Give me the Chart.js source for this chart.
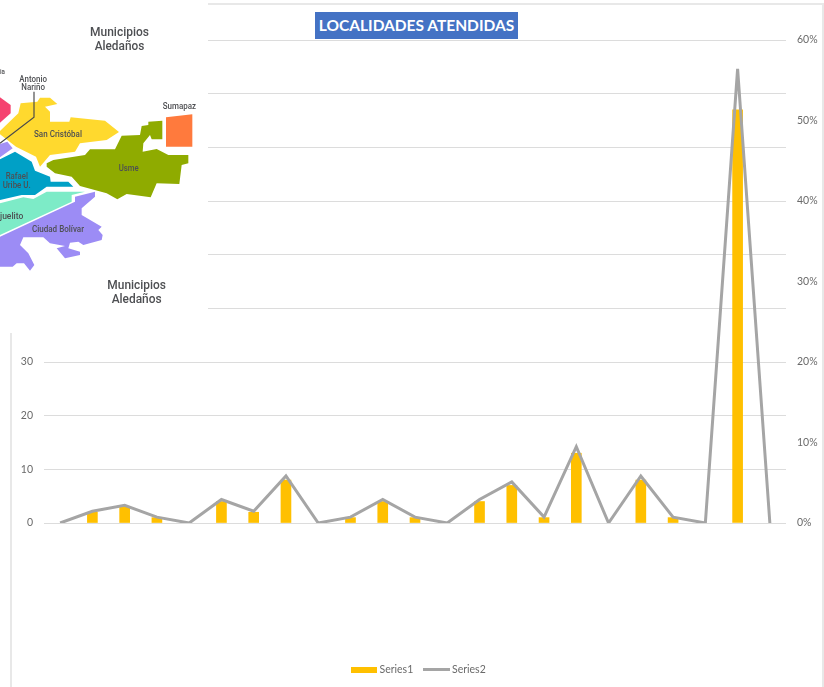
<!DOCTYPE html>
<html>
<head>
<meta charset="utf-8">
<title>Localidades atendidas</title>
<script src="https://cdn.jsdelivr.net/npm/chart.js@4"></script>
<style>
  html, body { margin: 0; padding: 0; background: #fff; }
  #wrap { position: relative; width: 824px; height: 687px; overflow: hidden; }
  #chart { position: absolute; left: 0; top: 0; }
  .frame { position: absolute; background: #e8e8e8; }
  #cover { position: absolute; left: 0; top: 0; width: 208px; height: 333px; background: #fff; }
  #map { position: absolute; left: 0; top: 0; width: 210px; height: 320px; }
  #map text { font-family: "Roboto", "Liberation Sans", sans-serif; font-weight: 500; fill: #4e4f52; text-anchor: start; }
  #titulo {
    position: absolute; left: 315px; top: 12px; width: 203px; height: 27px;
    background: #4472c4; color: #fff; text-align: center;
    font: bold 15.5px/27px Lato, sans-serif;
  }
</style>
</head>
<body>
<div id="wrap">
  <div class="frame" style="left:208px;top:3px;width:616px;height:2px"></div>
  <div class="frame" style="left:822px;top:3px;width:2px;height:684px"></div>
  <div class="frame" style="left:10px;top:333px;width:2px;height:354px"></div>
  <canvas id="chart" width="824" height="687"></canvas>
  <div id="cover"></div>
  <!-- mapa de fondo, coordenadas del recorte a 3x -->
  <svg id="map" viewBox="0 0 630 960">
    <defs><filter id="soft"><feGaussianBlur stdDeviation="0.9"/></filter></defs>
    <g filter="url(#soft)">
      <polygon fill="#f5426f" points="0,292 32,315 32,340 0,368"/>
      <polygon fill="#ffd92f" points="0,393 55,340 62,310 112,305 120,293 150,293 172,312 135,320 150,335 150,365 208,365 212,352 315,362 357,396 320,420 240,430 225,455 150,465 120,500 108,470 48,440 0,403"/>
      <polygon fill="#a390f5" points="0,432 22,425 38,445 0,472"/>
      <polygon fill="#00a0c6" points="0,478 45,455 95,485 105,512 150,530 152,545 205,545 220,560 140,560 105,585 65,585 0,600"/>
      <polygon fill="#7debc7" points="0,610 70,592 100,597 140,575 255,575 215,585 215,605 0,705"/>
      <polygon fill="#9c8cf5" points="0,710 225,605 225,590 285,575 285,590 245,625 245,645 305,680 295,690 308,705 305,720 250,735 235,725 210,728 205,745 240,755 240,765 195,775 170,745 195,738 150,730 130,712 70,712 60,735 85,760 103,795 90,812 72,790 50,790 38,800 0,800"/>
      <polygon fill="#8fab00" points="140,490 160,480 255,465 270,448 345,448 365,407 420,405 425,378 445,375 445,365 487,362 487,418 455,418 450,405 430,430 428,455 470,447 505,465 565,465 565,490 545,495 538,552 470,550 452,592 380,582 352,598 320,580 240,558 215,530 165,520 140,500"/>
      <polygon fill="#ff7a3c" points="498,352 577,343 577,440 498,440"/>
      <polyline fill="none" stroke="#4a4a4a" stroke-width="3.5" points="102,275 102,352 0,430"/>
      <text x="270" y="107" font-size="39" textLength="177" lengthAdjust="spacingAndGlyphs">Municipios</text>
      <text x="284" y="150" font-size="39" textLength="149" lengthAdjust="spacingAndGlyphs">Aledaños</text>
      <text x="322" y="866" font-size="39" textLength="176" lengthAdjust="spacingAndGlyphs">Municipios</text>
      <text x="335" y="908" font-size="39" textLength="150" lengthAdjust="spacingAndGlyphs">Aledaños</text>
      <text x="0" y="223" font-size="23" textLength="15" lengthAdjust="spacingAndGlyphs">ia</text>
      <text x="58" y="245" font-size="25" textLength="83" lengthAdjust="spacingAndGlyphs">Antonio</text>
      <text x="64" y="270" font-size="25" textLength="71" lengthAdjust="spacingAndGlyphs">Nariño</text>
      <text x="488" y="327" font-size="25" textLength="100" lengthAdjust="spacingAndGlyphs">Sumapaz</text>
      <text x="102" y="412" font-size="25" textLength="144" lengthAdjust="spacingAndGlyphs">San Cristóbal</text>
      <text x="356" y="512" font-size="25" textLength="60" lengthAdjust="spacingAndGlyphs">Usme</text>
      <text x="17" y="538" font-size="25" textLength="67" lengthAdjust="spacingAndGlyphs">Rafael</text>
      <text x="8" y="563" font-size="25" textLength="84" lengthAdjust="spacingAndGlyphs">Uribe U.</text>
      <text x="0" y="656" font-size="25" textLength="70" lengthAdjust="spacingAndGlyphs">juelito</text>
      <text x="96" y="695" font-size="25" textLength="156" lengthAdjust="spacingAndGlyphs">Ciudad Bolívar</text>
    </g>
  </svg>
  <div id="titulo">LOCALIDADES ATENDIDAS</div>
</div>
<script>
// datos
const categorias = ["1", "2", "3", "4", "5", "6", "7", "8", "9", "10", "11", "12",
  "13", "14", "15", "16", "17", "18", "19", "20", "21", "22", "23"];
const series1 = [0, 2, 3, 1, 0, 4, 2, 8, 0, 1, 4, 1, 0, 4, 7, 1, 13, 0, 8, 1, 0, 77, 0];
const series2 = [0, 1.46, 2.19, 0.73, 0, 2.92, 1.46, 5.84, 0, 0.73, 2.92, 0.73, 0, 2.92,
  5.11, 0.73, 9.49, 0, 5.84, 0.73, 0, 56.4, 0];

const grisTexto = "#6a6a6a";
const fuente = { family: "Lato, sans-serif", size: 10.5 };

// muestra de la leyenda, Chart.js solo deja un alto de caja por leyenda
function muestra(w, h, color) {
  const c = document.createElement("canvas");
  c.width = w;
  c.height = h;
  const g = c.getContext("2d");
  g.fillStyle = color;
  g.fillRect(0, 0, w, h);
  return c;
}

new Chart(document.getElementById("chart"), {
  data: {
    labels: categorias,
    datasets: [
      {
        type: "line",
        label: "Series2",
        data: series2,
        yAxisID: "y1",
        borderColor: "#a5a5a5",
        backgroundColor: "#a5a5a5",
        borderWidth: 3,
        borderJoinStyle: "miter",
        tension: 0,
        pointRadius: 0,
        order: 1,
      },
      {
        type: "bar",
        label: "Series1",
        data: series1,
        yAxisID: "y",
        // las barras en cero dejaban una raya amarilla de un pixel
        backgroundColor: (c) => (c.raw === 0 ? "transparent" : "#ffc000"),
        barThickness: 10,
        order: 2,
      },
    ],
  },
  options: {
    responsive: false,
    animation: false,
    layout: { padding: { top: 40, left: 15, bottom: 2 } },
    scales: {
      x: {
        grid: { display: false },
        border: { display: false },
        ticks: { display: false },
        afterFit(scale) { scale.height = 129; },
      },
      y: {
        position: "left",
        min: 0,
        max: 90,
        ticks: { stepSize: 10, color: grisTexto, font: fuente, padding: 11 },
        grid: { color: "#dcdcdc", drawTicks: false },
        border: { display: false },
        afterFit(scale) { scale.width = 29; },
      },
      y1: {
        position: "right",
        min: 0,
        max: 60,
        ticks: {
          stepSize: 10,
          color: grisTexto,
          font: fuente,
          padding: 11,
          callback: (v) => v + "%",
        },
        grid: { display: false, drawTicks: false },
        border: { display: false },
        afterFit(scale) { scale.width = 38; },
      },
    },
    plugins: {
      tooltip: { enabled: false },
      legend: {
        position: "bottom",
        reverse: true,
        labels: {
          color: grisTexto,
          font: fuente,
          usePointStyle: true,
          pointStyleWidth: 21,
          padding: 12.5,
          generateLabels(chart) {
            const items = Chart.defaults.plugins.legend.labels.generateLabels(chart);
            items[0].pointStyle = muestra(27, 3, "#a5a5a5");
            items[1].pointStyle = muestra(26, 6, "#ffc000");
            return items;
          },
        },
      },
    },
  },
});
</script>
</body>
</html>
